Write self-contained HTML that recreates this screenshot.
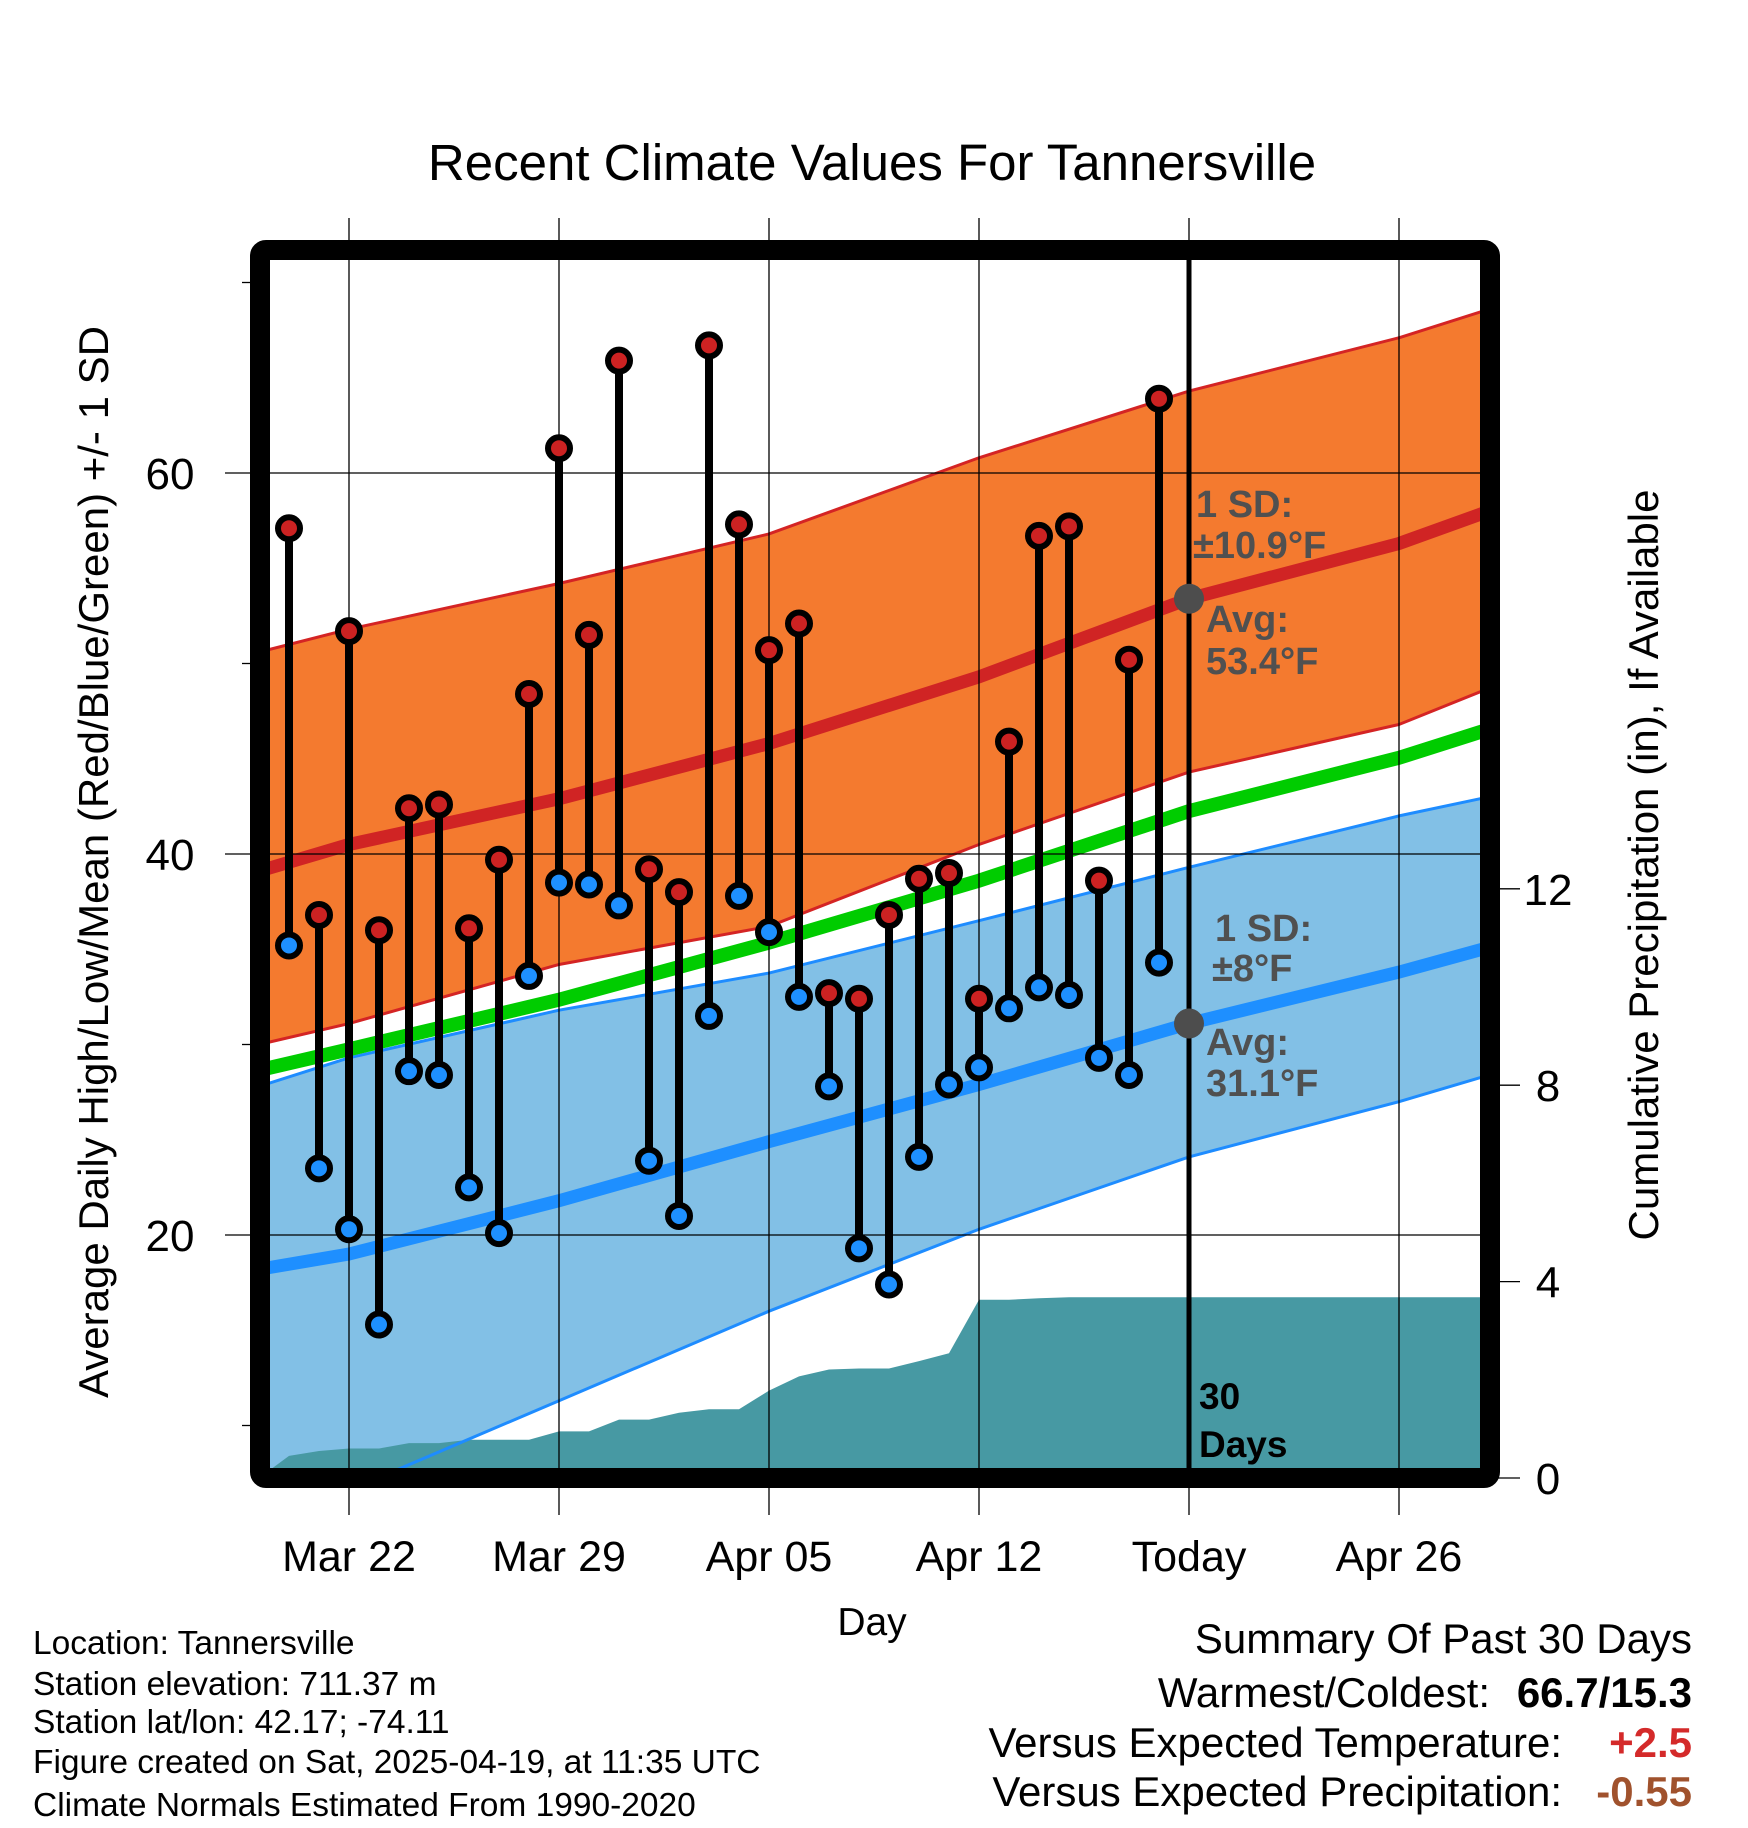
<!DOCTYPE html>
<html><head><meta charset="utf-8"><style>
html,body{margin:0;padding:0;background:#fff;}
svg{display:block;font-family:"Liberation Sans",Arial,sans-serif;}
</style></head><body>
<svg id="chart" width="1748" height="1828" viewBox="0 0 1748 1828" xmlns="http://www.w3.org/2000/svg">
<defs><clipPath id="plotclip"><rect x="270" y="260" width="1210" height="1208"/></clipPath></defs>
<g id="bands" clip-path="url(#plotclip)"></g>
<g id="grid"></g>
<g id="marks"></g>
<rect x="260" y="250" width="1230" height="1228" rx="6" fill="none" stroke="#000" stroke-width="20"/>
<text x="872" y="180" font-size="51" text-anchor="middle">Recent Climate Values For Tannersville</text>
<text x="872" y="1635" font-size="39" text-anchor="middle">Day</text>
<text transform="translate(108,862) rotate(-90)" font-size="42" text-anchor="middle">Average Daily High/Low/Mean (Red/Blue/Green) +/- 1 SD</text>
<text transform="translate(1658,865) rotate(-90)" font-size="42" text-anchor="middle">Cumulative Precipitation (in), If Available</text>
<g font-size="33.5">
<text x="33" y="1654">Location: Tannersville</text>
<text x="33" y="1695">Station elevation: 711.37 m</text>
<text x="33" y="1733">Station lat/lon: 42.17; -74.11</text>
<text x="33" y="1773">Figure created on Sat, 2025-04-19, at 11:35 UTC</text>
<text x="33" y="1816">Climate Normals Estimated From 1990-2020</text>
</g>
<g font-size="42">
<text x="1692" y="1653" text-anchor="end">Summary Of Past 30 Days</text>
<text x="1490" y="1707" text-anchor="end">Warmest/Coldest:</text>
<text x="1692" y="1707" text-anchor="end" font-weight="bold">66.7/15.3</text>
<text x="1562" y="1757" text-anchor="end">Versus Expected Temperature:</text>
<text x="1692" y="1757" text-anchor="end" font-weight="bold" fill="#d42a2a">+2.5</text>
<text x="1562" y="1806" text-anchor="end">Versus Expected Precipitation:</text>
<text x="1692" y="1806" text-anchor="end" font-weight="bold" fill="#a0522d">-0.55</text>
</g>
</svg>
<script>
// day offsets from Mar 19 (day 0)
const normDays = [0, 3, 10, 17, 24, 31, 38, 41];
const highMean = [39.1, 40.5, 42.9, 45.8, 49.3, 53.4, 56.3, 58.0];
const highUpper = [50.6, 51.8, 54.2, 56.8, 60.8, 64.3, 67.1, 68.6];
const highLower = [30.0, 31.1, 34.2, 36.2, 40.5, 44.3, 46.8, 48.7];
const lowMean = [18.2, 19.0, 21.8, 24.9, 27.9, 31.1, 33.8, 35.1];
const lowUpper = [27.8, 29.3, 31.8, 33.75, 36.5, 39.3, 42.0, 43.0];
const lowLower = [4.7, 6.6, 11.3, 16.0, 20.3, 24.1, 27.0, 28.4];
const obsDays = [1,2,3,4,5,6,7,8,9,10,11,12,13,14,15,16,17,18,19,20,21,22,23,24,25,26,27,28,29,30];
const obsHigh = [57.1,36.8,51.7,36.0,42.4,42.6,36.1,39.7,48.4,61.3,51.5,65.9,39.2,38.0,66.7,57.3,50.7,52.1,32.7,32.4,36.8,38.7,39.0,32.4,45.9,56.7,57.2,38.6,50.2,63.9];
const obsLow = [35.2,23.5,20.3,15.3,28.6,28.4,22.5,20.1,33.6,38.5,38.4,37.3,23.9,21.0,31.5,37.8,35.9,32.5,27.8,19.3,17.4,24.1,27.9,28.8,31.9,33.0,32.6,29.3,28.4,34.3];
const precip = [0.45,0.55,0.6,0.6,0.71,0.71,0.78,0.78,0.78,0.95,0.95,1.19,1.19,1.33,1.4,1.4,1.78,2.07,2.21,2.23,2.23,2.38,2.54,3.63,3.63,3.66,3.68,3.68,3.68,3.68];
const xTickDays = [3, 10, 17, 24, 31, 38];
const xTickLabels = ["Mar 22","Mar 29","Apr 05","Apr 12","Today","Apr 26"];
const yMajor = [20, 40, 60];
const yMinor = [10, 30, 50, 70];
const pTicks = [0, 4, 8, 12];
const todayDay = 31;
const todayHighAvg = 53.4, todayLowAvg = 31.1;

const NS = "http://www.w3.org/2000/svg";
const X = d => 349 + (d - 3) * 30;
const Y = t => 473 + (60 - t) * 19.05;
const P = p => 1478 - p * 49.1;
function mk(tag, attrs, parent, txt){const e=document.createElementNS(NS,tag);for(const k in attrs)e.setAttribute(k,attrs[k]);if(txt!==undefined)e.textContent=txt;parent.appendChild(e);return e;}
const bands=document.getElementById('bands'), grid=document.getElementById('grid'), marks=document.getElementById('marks'), svg=document.getElementById('chart');
const line = arr => normDays.map((d,i)=>X(d)+','+Y(arr[i])).join(' ');
const band = (up,lo) => line(up)+' '+normDays.map((d,i)=>X(d)+','+Y(lo[i])).reverse().join(' ');

let e;
e=mk('polygon',{points:band(highUpper,highLower),fill:'#f47a2f'},bands);


e=mk('polyline',{points:line(highUpper),fill:'none',stroke:'#d42424','stroke-width':3},bands);


e=mk('polyline',{points:line(highLower),fill:'none',stroke:'#d42424','stroke-width':3},bands);


e=mk('polygon',{points:band(lowUpper,lowLower),fill:'#82c0e6'},bands);


e=mk('polyline',{points:line(lowUpper),fill:'none',stroke:'#1e8cff','stroke-width':3},bands);


// precipitation area
let pp = X(0)+','+P(0)+' ';
obsDays.forEach((d,i)=>{pp+=X(d)+','+P(precip[i])+' ';});
pp += X(42)+','+P(precip[precip.length-1])+' '+X(42)+','+P(0);
e=mk('polygon',{points:pp,fill:'#4799a3'},bands);


e=mk('polyline',{points:line(lowLower),fill:'none',stroke:'#1e8cff','stroke-width':3},bands);


e=mk('polyline',{points:line(highMean),fill:'none',stroke:'#d02424','stroke-width':13},bands);


e=mk('polyline',{points:line(lowMean),fill:'none',stroke:'#1e8fff','stroke-width':13},bands);


const avgMean = highMean.map((h,i)=>(h+lowMean[i])/2);
e=mk('polyline',{points:line(avgMean),fill:'none',stroke:'#00cc00','stroke-width':14},bands);



// grid + ticks
xTickDays.forEach((d,i)=>{
  e=mk('line',{x1:X(d),x2:X(d),y1:218,y2:1515,stroke:'#000','stroke-width':1.3},grid);
  
  
  e=mk('text',{x:X(d),y:1571,'font-size':43,'text-anchor':'middle'},svg,xTickLabels[i]);
  
  
});
yMajor.forEach(t=>{
  e=mk('line',{x1:225,x2:1480,y1:Y(t),y2:Y(t),stroke:'#000','stroke-width':1.3},grid);
  
  
  e=mk('text',{x:170,y:Y(t)+16,'font-size':44,'text-anchor':'middle'},svg,String(t));
  
  
});
yMinor.forEach(t=>{
  e=mk('line',{x1:242,x2:252,y1:Y(t),y2:Y(t),stroke:'#000','stroke-width':1.3},grid);
  
  
});
pTicks.forEach(p=>{
  e=mk('line',{x1:1490,x2:1520,y1:P(p),y2:P(p),stroke:'#000','stroke-width':1.3},grid);
  
  
  e=mk('text',{x:1548,y:P(p)+16,'font-size':44,'text-anchor':'middle'},svg,String(p));
  
  
});
// today line
e=mk('line',{x1:X(todayDay),x2:X(todayDay),y1:260,y2:1468,stroke:'#000','stroke-width':5},grid);



// stems & markers
obsDays.forEach((d,i)=>{
  e=mk('line',{x1:X(d),x2:X(d),y1:Y(obsHigh[i]),y2:Y(obsLow[i]),stroke:'#000','stroke-width':8},marks);
  
  
});
obsDays.forEach((d,i)=>{
  e=mk('circle',{cx:X(d),cy:Y(obsHigh[i]),r:11,fill:'#cc2222',stroke:'#000','stroke-width':6},marks);
  
  
  e=mk('circle',{cx:X(d),cy:Y(obsLow[i]),r:11,fill:'#1e90ff',stroke:'#000','stroke-width':6},marks);
  
  
});
// today avg dots
e=mk('circle',{cx:X(todayDay),cy:Y(todayHighAvg),r:15,fill:'#4d4d4d'},marks);


e=mk('circle',{cx:X(todayDay),cy:Y(todayLowAvg),r:15,fill:'#4d4d4d'},marks);



const ann=[["1 SD:",1196,517,'high-sd-label'],["±10.9°F",1193,558,'high-sd-value'],["Avg:",1206,632,'high-avg-label'],["53.4°F",1206,674,'high-avg-value'],
["1 SD:",1215,941,'low-sd-label'],["±8°F",1212,981,'low-sd-value'],["Avg:",1206,1055,'low-avg-label'],["31.1°F",1206,1096,'low-avg-value']];
ann.forEach(a=>{
  e=mk('text',{x:a[1],y:a[2],'font-size':38,'font-weight':'bold',fill:'#505050'},marks,a[0]);
  
  
});
e=mk('text',{x:1199,y:1409,'font-size':37,'font-weight':'bold',fill:'#000'},marks,"30");


e=mk('text',{x:1199,y:1457,'font-size':37,'font-weight':'bold',fill:'#000'},marks,"Days");


</script>
</body></html>
